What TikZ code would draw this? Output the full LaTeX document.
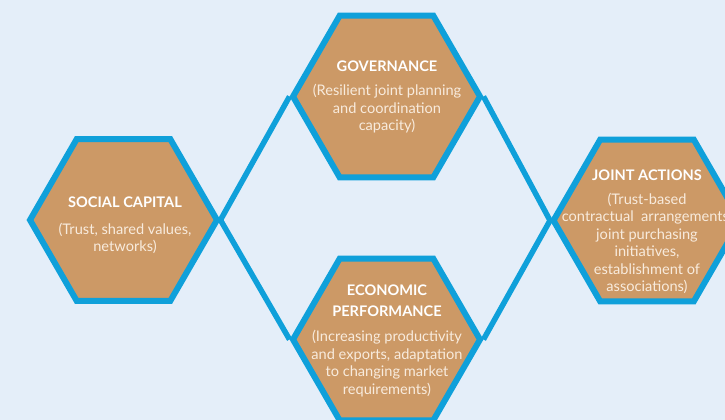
\documentclass[tikz,border=0pt]{standalone}
\usepackage{fontspec}
\setmainfont{Lato}
\usetikzlibrary{shapes.geometric}
\definecolor{bgblue}{HTML}{E4EEF9}
\definecolor{hexfill}{HTML}{CC9966}
\definecolor{hexline}{HTML}{0FA0DA}
\definecolor{bodytext}{HTML}{F8EBDD}
\begin{document}
\begin{tikzpicture}[x=1pt,y=-1pt,
  hexbox/.style={regular polygon, regular polygon sides=6, minimum size=187pt,
    inner sep=0pt, draw=hexline, line width=6pt, fill=hexfill, line join=miter},
  link/.style={draw=hexline, line width=5.5pt},
  title/.style={text=white, font=\fontsize{14.6}{21}\selectfont\bfseries, align=center, anchor=base, inner sep=0pt},
  body/.style={text=bodytext, font=\fontsize{14.6}{17.5}\selectfont, align=center, anchor=base, inner sep=0pt}]
  \fill[bgblue] (0,0) rectangle (725,420);
  \useasboundingbox (0,0) rectangle (725,420);
  % hexagon outlines, positioned by centre
  \coordinate (socC) at (123.5,220);
  \coordinate (govC) at (386.5,96.5);
  \coordinate (ecoC) at (386.5,339.5);
  \coordinate (jntC) at (647,220.5);
  \node[hexbox, draw=none, fill=none] (soc) at (socC) {};
  \node[hexbox, draw=none, fill=none] (gov) at (govC) {};
  \node[hexbox, draw=none, fill=none] (eco) at (ecoC) {};
  \node[hexbox, draw=none, fill=none] (jnt) at (jntC) {};
  % connectors between the corner points
  \draw[link] (soc.east) -- (gov.west);
  \draw[link] (soc.east) -- (eco.west);
  \draw[link] (gov.east) -- (jnt.west);
  \draw[link] (eco.east) -- (jnt.west);
  % hexagons drawn over the connector ends
  \node[hexbox] at (socC) {};
  \node[hexbox] at (govC) {};
  \node[hexbox] at (ecoC) {};
  \node[hexbox] at (jntC) {};
  % labels (base anchor sits on the baseline of the last line)
  \node[title] (socT) at (125,207) {SOCIAL CAPITAL};
  \node[body] (socB) at (125,251.5) {(Trust, shared values,\\networks)};
  \node[title] (govT) at (387,71) {GOVERNANCE};
  \node[body] (govB) at (387,130.7) {(Resilient joint planning\\and coordination\\capacity)};
  \node[title] (ecoT) at (387,316) {ECONOMIC\\PERFORMANCE};
  \node[body] (ecoB) at (387,394.2) {(Increasing productivity\\and exports, adaptation\\to changing market\\requirements)};
  \node[title] (jntT) at (647,180) {JOINT ACTIONS};
  \node[body] (jntB) at (647,291.5) {(Trust-based\\contractual\ \ arrangements,\\joint purchasing\\initiatives,\\establishment of\\associations)};
\end{tikzpicture}
\end{document}
